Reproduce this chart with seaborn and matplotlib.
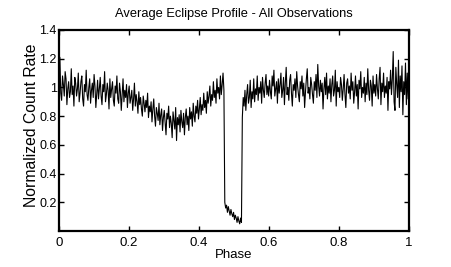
import numpy as np
import pandas as pd
import matplotlib
matplotlib.use("Agg")
import matplotlib.pyplot as plt
import seaborn as sns

# Normalized count rate (400 evenly spaced phase bins, 0..1)
rate_a = [1.05, 1.21, 0.96, 0.91, 1.08, 1.02, 0.94, 1.11, 1.06, 0.88,
          0.99, 1.04, 0.93, 0.97, 1.13, 0.95, 1.01, 0.87, 1.07, 1.03]
rate_b = [0.94, 0.99, 1.10, 0.90, 0.96, 1.04, 1.08, 0.92, 0.87, 1.02,
          0.97, 1.12, 0.95, 0.91, 1.00, 1.06, 0.89, 0.98, 1.03, 0.93,
          1.09, 1.01, 0.86, 0.96, 1.05, 0.92, 0.99, 1.07, 0.94, 0.88,
          1.02, 0.97, 1.11, 0.90, 0.95, 1.03, 0.98, 0.85, 1.06, 0.93,
          0.99, 1.04, 0.91, 0.87, 1.01, 0.96, 1.08, 0.92, 0.89, 1.03,
          0.97, 0.84, 0.95, 1.06, 0.90, 0.98, 0.93, 1.02, 0.86, 0.96]
rate_c = [1.01, 0.89, 0.93, 0.98, 0.84, 0.92, 1.03, 0.87, 0.95, 0.90,
          0.82, 0.97, 0.88, 0.93, 0.85, 0.80, 0.94, 0.89, 0.83, 0.91,
          0.86, 0.96, 0.79, 0.87, 0.83, 0.90, 0.76, 0.85, 0.92, 0.80,
          0.73, 0.86, 0.82, 0.77, 0.89, 0.74, 0.81, 0.85, 0.70, 0.79,
          0.84, 0.76, 0.67, 0.82, 0.78, 0.87, 0.72, 0.80, 0.75, 0.65]
rate_d = [0.83, 0.77, 0.71, 0.86, 0.63, 0.79, 0.74, 0.81, 0.69, 0.84]
rate_e = [0.76, 0.72, 0.82, 0.67, 0.79, 0.85, 0.74, 0.80, 0.70, 0.86,
          0.78, 0.83, 0.73, 0.89, 0.80, 0.76, 0.87, 0.82, 0.91, 0.78,
          0.85, 0.93, 0.81, 0.88, 0.84, 0.96, 0.86, 0.91, 0.82, 0.97,
          0.89, 0.94, 1.01, 0.87, 0.95, 0.91, 1.04, 0.93, 0.98, 0.89,
          1.06, 0.96, 1.00, 0.92, 1.08, 0.95, 1.02, 1.10, 0.98]
rate_f = [0.20, 0.16, 0.18, 0.13, 0.17, 0.14, 0.11, 0.15, 0.12, 0.10,
          0.13, 0.08, 0.11, 0.09, 0.06, 0.10, 0.07, 0.05, 0.09, 0.06]
rate_g = [0.79, 0.93, 0.87, 0.98, 0.84, 0.95, 1.02, 0.89, 0.93, 1.05,
          0.86, 0.97, 0.92, 1.06, 0.90, 0.99, 0.95, 1.08, 0.91, 1.00,
          0.96, 1.04, 0.89, 1.07, 0.98, 0.93, 1.03, 1.09, 0.95, 1.01, 0.94]
rate_h = [1.05, 0.97, 0.92, 1.08, 1.01, 1.12, 0.94, 0.99, 1.04, 0.89,
          1.06, 0.96, 1.02, 1.10, 0.93, 0.98, 1.07, 0.88, 1.03, 1.14,
          0.95, 1.00, 0.91, 1.05, 1.09, 0.96, 0.87, 1.02, 0.98, 1.06,
          0.93, 1.11, 1.01, 0.95, 0.90, 1.04, 0.99, 1.08, 0.94, 1.03,
          0.86, 0.97, 1.06, 1.13, 0.96, 1.00, 0.92, 1.07, 1.02, 0.95,
          0.89, 1.04, 0.98, 1.09, 0.93, 1.16, 1.01, 0.94, 1.05, 0.97,
          1.03, 0.85, 0.99, 1.07, 0.95, 1.10, 0.92, 1.01, 0.96, 1.06,
          0.90, 1.02, 1.08, 0.94, 0.98, 1.12, 0.87, 1.04, 0.97, 1.00,
          0.93, 1.07, 1.02, 0.91, 0.99, 1.09, 0.95, 0.86, 1.03, 1.06,
          0.96, 1.01, 0.92, 1.10, 0.98, 1.04, 0.89, 0.97, 1.08, 0.94,
          1.02, 0.85, 1.05, 0.99, 1.11, 0.93, 1.00, 0.96, 1.07, 0.90,
          1.03, 0.95, 1.13, 0.98, 0.91, 1.05, 1.01, 0.87, 1.08, 0.96,
          1.02, 0.94, 1.09, 0.99, 0.92, 1.06, 1.14, 0.88, 1.03, 0.97,
          1.10, 0.93, 1.01, 0.96, 1.07, 0.84, 1.04, 0.99, 1.12, 0.95]
rate_i = [1.06, 1.25, 0.90, 0.84, 1.14, 1.02, 0.93, 1.19, 0.86, 1.08,
          0.97, 1.15, 0.81, 1.04, 0.95, 1.17, 0.88, 1.10, 0.92, 1.03]

count_rate = rate_a + rate_b + rate_c + rate_d + rate_e + rate_f + rate_g + rate_h + rate_i
phase = np.linspace(0, 1, len(count_rate))

x_ticks = [0, 0.2, 0.4, 0.6, 0.8, 1]
x_labels = ["0", "0.2", "0.4", "0.6", "0.8", "1"]
y_ticks = [0.2, 0.4, 0.6, 0.8, 1.0, 1.2, 1.4]
y_labels = ["0.2", "0.4", "0.6", "0.8", "1", "1.2", "1.4"]

df = pd.DataFrame({"Phase": phase, "Rate": count_rate})

sns.set_theme(style="white")
plt.rcParams["font.family"] = ["Liberation Sans", "DejaVu Sans"]

fig = plt.figure(figsize=(4.52, 2.67), dpi=100)
ax = fig.add_axes([59 / 452, 1 - 231 / 267, 350 / 452, 201 / 267])

sns.lineplot(data=df, x="Phase", y="Rate", ax=ax, color="black",
             linewidth=0.8, estimator=None, sort=False)

ax.set_xlim(0, 1)
ax.set_ylim(0, 1.4)
ax.set_xticks(x_ticks)
ax.set_xticklabels(x_labels)
ax.set_yticks(y_ticks)
ax.set_yticklabels(y_labels)

for s in ax.spines.values():
    s.set_visible(True)
    s.set_color("black")
    s.set_linewidth(1.6)

ax.tick_params(axis="both", which="both", direction="in", length=3.5,
               width=1.0, color="black", labelsize=9.5, labelcolor="black",
               top=True, right=True, bottom=True, left=True)
ax.tick_params(axis="x", pad=4)
ax.tick_params(axis="y", pad=1.5, labelsize=9)

ax.set_xlabel("Phase", fontsize=9.5, color="black", labelpad=0)
ax.set_ylabel("Normalized Count Rate", fontsize=11.3, color="black", labelpad=1)
ax.yaxis.set_label_coords(-0.058, 0.527)
ax.set_title("Average Eclipse Profile - All Observations", fontsize=9.3,
             color="black", pad=9)
ax.grid(False)

fig.savefig("out.png", dpi=100)
